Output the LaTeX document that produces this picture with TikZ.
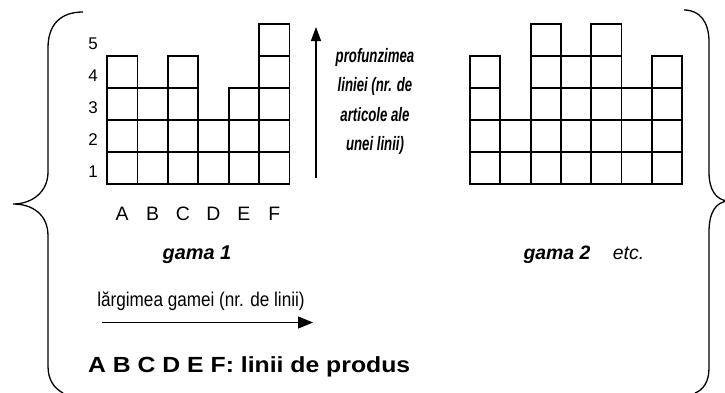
\documentclass[tikz,border=0pt]{standalone}
\usepackage{fontspec}
\setmainfont{Liberation Sans}
\usetikzlibrary{arrows.meta}
% horizontal squeeze/stretch of a piece of text
\newcommand\hsq[2]{\scalebox{#1}[1]{#2}}

\begin{document}
\begin{tikzpicture}[x=1bp,y=-1bp,
  cell/.style={line width=1.8bp},
  brace/.style={line width=1.3bp},
  axis/.style={line width=1.2bp,-{Triangle[length=14bp,width=10bp]}},
  lbl/.style={inner sep=0pt,anchor=base},
  digit/.style={inner sep=0pt,font=\fontsize{17}{17}\selectfont},
  letter/.style={lbl,font=\fontsize{19.5}{19.5}\selectfont}]
\useasboundingbox (0,0) rectangle (725,392);

% first range: six product lines A..F with their depths
\foreach \h [count=\i from 0] in {4,3,4,2,3,5}{
  \foreach \k in {1,...,\h}{
    \draw[cell] ({107+30.4*\i},{184-32*(\k-1)}) rectangle ++(30.4,-32);
  }
}
% second range: seven product lines
\foreach \h [count=\i from 0] in {4,2,5,4,5,3,4}{
  \foreach \k in {1,...,\h}{
    \draw[cell] ({470+30.3*\i},{184-32*(\k-1)}) rectangle ++(30.3,-32);
  }
}

% depth scale
\foreach \k in {1,...,5}{
  \node[digit] (d\k) at (93,{203.5-32*\k}) {\k};
}
% line names
\foreach \n [count=\i from 0] in {A,B,C,D,E,F}{
  \node[letter] (l\n) at ({122.2+30.4*\i},220) {\n};
}

% depth arrow and its caption
\coordinate (v0) at (316,178);
\coordinate (v1) at (316,27);
\draw[axis] (v0) -- (v1);
\node[lbl] (depth) at (375,62.5) {\hsq{0.68}{\fontsize{19.5}{29.5}\selectfont\bfseries\itshape
  \begin{tabular}[t]{@{}c@{}}profunzimea\\ liniei (nr. de\\ articole ale\\ unei linii)\end{tabular}}};

% range captions
\node[lbl,font=\fontsize{20}{20}\selectfont\bfseries\itshape] (g1) at (197,259) {gama 1};
\node[lbl,font=\fontsize{19.5}{19.5}\selectfont\bfseries\itshape] (g2) at (557,259) {gama 2};
\node[lbl,font=\fontsize{19.5}{19.5}\selectfont\itshape] (etc) at (628.5,259) {etc.};

% width arrow and its caption
\node[lbl] (width) at (201,306) {\hsq{0.86}{\fontsize{20}{20}\selectfont lărgimea gamei (nr. de linii)}};
\coordinate (h0) at (102,322.5);
\coordinate (h1) at (313,322.5);
\draw[axis,-{Triangle[length=15bp,width=12bp]}] (h0) -- (h1);

% legend
\node[lbl,anchor=base west] (legend) at (88,372) {\hsq{1.13}{\fontsize{22}{22}\selectfont\bfseries A B C D E F: linii de produs}};

% enclosing braces
\draw[brace] (83,12) .. controls (60,12) and (48,25) .. (48,48) -- (48,172)
  .. controls (48,192) and (32,204) .. (13,204)
  .. controls (32,204) and (48,214) .. (48,236) -- (48,366)
  .. controls (48,380) and (54,388) .. (63,393);
\draw[brace] (684,10) .. controls (700,10) and (709,22) .. (709,42) -- (709,172)
  .. controls (709,190) and (716,200) .. (728,201)
  .. controls (716,202) and (709,212) .. (709,232) -- (709,368)
  .. controls (709,382) and (703,390) .. (695,393);
\end{tikzpicture}
\end{document}
